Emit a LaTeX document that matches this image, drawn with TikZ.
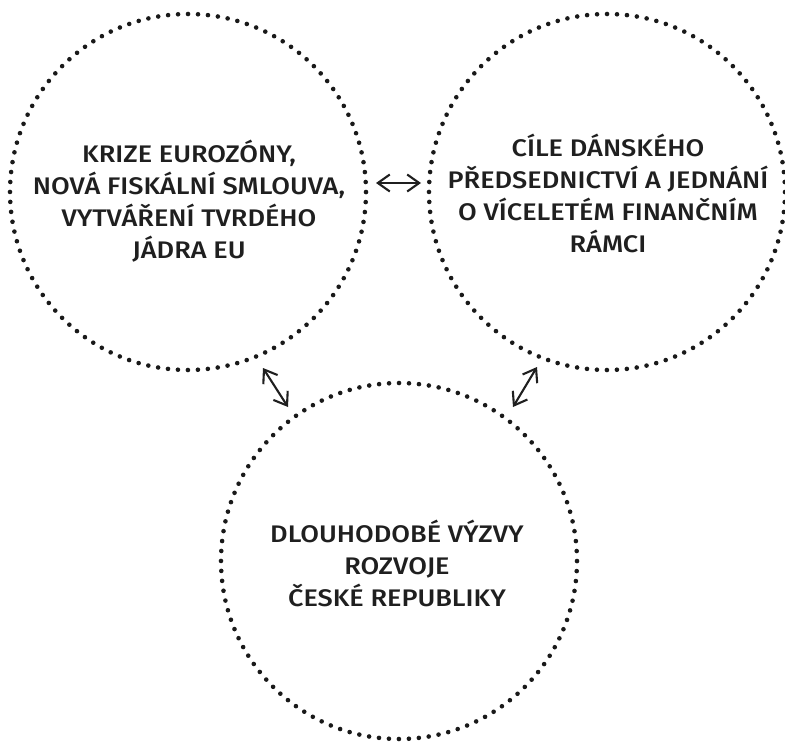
\documentclass[tikz,border=0pt]{standalone}
\usepackage{fontspec}
\newfontfamily\lbl{Fira Sans}[UprightFont={* Medium}, FakeStretch=1.13]
\usetikzlibrary{arrows.meta}
\tikzset{
  dotcircle/.style={circle, minimum size=356pt, inner sep=0pt,
    draw=black!90, line width=4.6pt, line cap=round,
    dash pattern=on 0pt off 9.986pt},
  label text/.style={align=center, font=\lbl\fontsize{24}{32}\selectfont, text=black!88},
  link/.style={line width=2.1pt, draw=black!88,
    {Straight Barb[length=12pt,width=17pt,line width=2.1pt]}-{Straight Barb[length=12pt,width=17pt,line width=2.1pt]}}
}
\begin{document}
\begin{tikzpicture}[x=1pt,y=-1pt]
\useasboundingbox (0,0) rectangle (785,744);
\node[dotcircle] (L) at (188,192) {};
\node[dotcircle] (R) at (607,192) {};
\node[dotcircle] (B) at (399,561) {};
\node[label text] (tL) at (189,201) {KRIZE EUROZÓNY,\\NOVÁ FISKÁLNÍ SMLOUVA,\\VYTVÁŘENÍ TVRDÉHO\\JÁDRA EU};
\node[label text] (tR) at (608,193) {CÍLE DÁNSKÉHO\\PŘEDSEDNICTVÍ A JEDNÁNÍ\\O VÍCELETÉM FINANČNÍM\\RÁMCI};
\node[label text] (tB) at (397,563) {DLOUHODOBÉ VÝZVY\\ROZVOJE\\ČESKÉ REPUBLIKY};
\coordinate (lr1) at (376,183);
\coordinate (lr2) at (421,183);
\coordinate (lb1) at (263,368);
\coordinate (lb2) at (288,407);
\coordinate (rb1) at (537,367);
\coordinate (rb2) at (513,407);
\draw[link] (lr1) -- (lr2);
\draw[link] (lb1) -- (lb2);
\draw[link] (rb1) -- (rb2);
\end{tikzpicture}
\end{document}
